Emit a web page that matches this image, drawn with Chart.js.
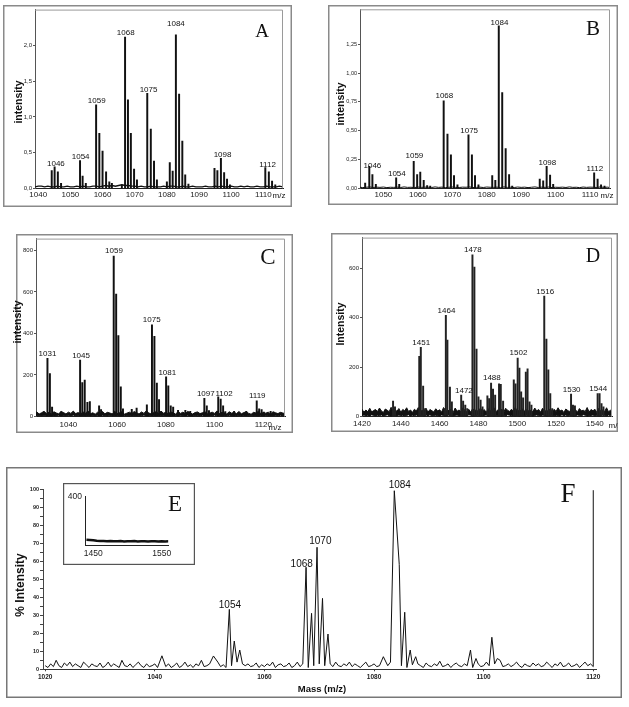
<!DOCTYPE html>
<html><head><meta charset="utf-8">
<script src="https://cdn.jsdelivr.net/npm/chart.js@4.4.0/dist/chart.umd.min.js"></script>
<style>
html,body{margin:0;padding:0;background:#fff;}
body{width:629px;height:707px;position:relative;overflow:hidden;}
canvas{position:absolute;}
</style></head><body>
<canvas id="cA" width="289" height="202" style="left:3px;top:5px"></canvas>
<canvas id="cB" width="290" height="200" style="left:328px;top:5px"></canvas>
<canvas id="cC" width="290" height="199" style="left:3px;top:234px"></canvas>
<canvas id="cD" width="287" height="199" style="left:331px;top:233px"></canvas>
<canvas id="cF" width="616" height="231" style="left:6px;top:467px"></canvas>
<canvas id="cE" width="132" height="82" style="left:63px;top:483px"></canvas>
<script>
// ---------- Panel A ----------
const aMass = [1044.2,1045.1,1046.1,1047.1, 1053.0,1053.8,1054.8, 1058.0,1059.0,1060.0,1061.1,1062.1,1062.9, 1066.0, 1067.0,1067.9,1068.8,1069.8,1070.7, 1073.9,1075.0,1076.0,1076.9, 1080.0,1080.9,1081.8,1082.8,1083.8,1084.8,1085.7,1086.7, 1094.8,1095.7,1096.8,1097.8,1098.7,1099.6, 1110.6,1111.7,1112.7,1113.7];
const aInt = [0.25,0.30,0.23,0.07, 0.39,0.17,0.07, 1.17,0.77,0.52,0.23,0.09,0.07, 0.05, 2.12,1.24,0.77,0.27,0.12, 1.33,0.83,0.38,0.12, 0.09,0.36,0.24,2.15,1.32,0.66,0.19,0.06, 0.28,0.25,0.42,0.22,0.13,0.05, 0.29,0.23,0.10,0.05];
const aNoiseStart = 1039, aNoiseStep = 1;
const aNoise = [0.02,0.03,0.03,0.02,0.03,0.02,0.02,0.03,0.02,0.02,0.03,0.02,0.02,0.03,0.02,0.03,0.02,0.02,0.03,0.03,0.02,0.03,0.04,0.03,0.04,0.03,0.04,0.05,0.04,0.04,0.03,0.03,0.02,0.03,0.02,0.02,0.03,0.02,0.02,0.02,0.03,0.02,0.03,0.03,0.02,0.02,0.03,0.02,0.02,0.03,0.02,0.02,0.02,0.03,0.02,0.02,0.03,0.02,0.03,0.02,0.02,0.03,0.02,0.02,0.03,0.02,0.03,0.02,0.02,0.03,0.02,0.02,0.03,0.02,0.02,0.02,0.03,0.02,0.02,0.02];
const aLabText = ['1046','1054','1059','1068','1075','1084','1098','1112'];
const aLabMass = [1045.5,1053.2,1058.2,1067.2,1074.3,1082.8,1097.3,1111.3];
const aLabVal = [0.31,0.41,1.19,2.15,1.35,2.28,0.44,0.30];
const aXTicks = [1040,1050,1060,1070,1080,1090,1100,1110];
const aYTicks = [0,0.5,1.0,1.5,2.0];

// ---------- Panel B ----------
const bMass = [1044.7,1045.9,1046.8,1047.8, 1053.7,1054.6, 1058.8,1059.8,1060.7,1061.7,1062.7,1063.6, 1067.5,1068.6,1069.6,1070.5,1071.5, 1074.7,1075.7,1076.6,1077.6, 1081.6,1082.5,1083.5,1084.5,1085.5,1086.5,1087.4, 1095.4,1096.4,1097.4,1098.4,1099.3, 1111.2,1112.2,1113.2,1114.2];
const bInt = [0.045,0.19,0.12,0.035, 0.09,0.035, 0.235,0.12,0.14,0.07,0.023,0.02, 0.76,0.47,0.29,0.11,0.03, 0.465,0.29,0.11,0.03, 0.11,0.07,1.41,0.83,0.345,0.12,0.02, 0.08,0.065,0.19,0.115,0.035, 0.135,0.08,0.03,0.02];
const bNoiseStart = 1043, bNoiseStep = 1;
const bNoise = [0.01,0.006,0.009,0.012,0.007,0.01,0.008,0.011,0.006,0.009,0.008,0.01,0.007,0.012,0.008,0.009,0.006,0.011,0.008,0.01,0.009,0.007,0.012,0.008,0.01,0.006,0.009,0.011,0.008,0.007,0.01,0.009,0.012,0.006,0.008,0.01,0.007,0.011,0.009,0.008,0.01,0.006,0.012,0.008,0.009,0.007,0.011,0.008,0.01,0.006,0.009,0.012,0.007,0.01,0.008,0.011,0.006,0.009,0.008,0.01,0.007,0.012,0.008,0.009,0.006,0.011,0.008,0.01,0.009,0.007,0.012,0.008,0.01,0.006,0.009];
const bLabText = ['1046','1054','1059','1068','1075','1084','1098','1112'];
const bLabMass = [1046.8,1053.9,1059.0,1067.7,1074.9,1083.7,1097.6,1111.4];
const bLabVal = [0.18,0.11,0.26,0.78,0.48,1.42,0.20,0.15];
const bXTicks = [1050,1060,1070,1080,1090,1100,1110];
const bYTicks = [0,0.25,0.5,0.75,1.0,1.25];

// ---------- Panel C ----------
const cMass = [1031.4,1032.4,1033.3,1034.3, 1037.0, 1044.8,1045.7,1046.7,1047.8,1048.8,1052.6,1053.4, 1058.6,1059.6,1060.5,1061.5,1062.4, 1066.0,1068.0,1072.2,1074.3,1075.3,1076.3,1077.2, 1080.1,1081.0,1082.0,1083.0, 1085.0,1088.0,1090.0, 1095.8,1096.8,1097.7, 1101.5,1102.5,1103.5,1104.4, 1108.0,1113.0, 1117.3,1118.3,1119.3,1120.2, 1123.0];
const cInt = [280,207,45,20, 22, 272,164,176,68,72,52,33, 773,590,390,143,37, 35,40,56,442,386,161,81, 191,148,52,45, 30,30,25, 87,52,29, 95,84,52,24, 25,25, 76,37,33,21, 25];
const cNoiseStart = 1026, cNoiseStep = 1;
const cNoiseHi = [16,22,12,18,25,14,20,11,23,17, 13,24,19,12,21,15,26,14,19,12, 22,16,27,13,18,11,21,15,24,13, 20,17,12,25,14,18,23,11,16,21, 14,24,18,12,22,15,28,17,12,19, 23,14,26,16,20,13,22,18,11,24, 15,21,13,25,17,12,19,22,14,18, 24,13,16,21,15,27,14,20,18,12, 23,16,21,14,24,13,19,22,15,11, 20,17,25,14,19,16,21,12,23,18, 14,20,17,13,18];
const cNoiseLo = [4,2,5,3,6,2,4,3,5,2, 6,3,4,2,5,3,7,2,4,3, 5,2,6,3,4,2,5,3,6,4, 2,5,3,4,6,2,3,5,4,2, 6,3,5,2,4,7,3,2,5,4, 3,6,2,4,5,3,2,6,4,3, 5,2,4,6,3,2,5,4,3,6, 2,4,5,3,7,2,4,3,5,2, 6,3,4,2,5,3,4,6,2,5, 3,4,2,6,3,5,2,4,3,5, 2,6,3,4,2];
const cLabText = ['1031','1045','1059','1075','1081','1097','1102','1119'];
const cLabMass = [1031.4,1045.2,1058.7,1074.2,1080.6,1096.4,1103.9,1117.5];
const cLabVal = [291,283,787,453,200,100,97,89];
const cXTicks = [1040,1060,1080,1100,1120];
const cYTicks = [0,200,400,600,800];

// ---------- Panel D ----------
const dMass = [1436.0,1437.0, 1449.5,1450.3,1451.5,1452.5, 1462.5,1463.2,1464.0,1465.3,1466.3, 1471.1,1472.1,1473.2,1474.2, 1476.9,1477.9,1479.0,1480.0,1481.1,1482.1, 1484.6,1485.5,1486.5,1487.5,1488.6,1490.6,1491.5,1492.7, 1498.2,1499.1,1500.2,1501.1,1502.0,1503.0,1504.4,1505.3,1506.3,1507.3, 1513.9,1515.0,1516.0,1517.0,1518.0, 1527.7,1528.7,1529.7, 1541.4,1542.4,1543.4,1544.4];
const dInt = [63,40, 244,280,124,33, 33,409,309,120,60, 87,63,47,33, 653,604,273,80,67,40, 84,73,136,111,87,133,131,63, 149,133,237,196,100,76,180,193,60,47, 487,313,189,93,33, 91,47,44, 93,93,53,40];
const dNoiseStart = 1419, dNoiseStep = 1;
const dNoiseHi = [22,30,18,27,20,34,19,25,29,21, 35,23,17,31,26,20,38,19,28,22, 33,18,29,24,36,21,27,17,30,23, 37,20,26,22,34,18,29,24,19,32, 23,28,18,37,21,26,24,31,17,35, 22,27,20,36,25,19,30,18,33,24, 28,19,35,22,29,17,32,25,21,36, 20,28,23,31,18,34,26,21,30,22, 38,19,27,24,33,17,30,22,26,20, 35,23,29,18,34,21,26,22,32,19, 30,21,36,23,27,17,31,25,20,35, 22,28,18,33,24,26,21,37,19,29, 24,30,17,34,22,27,21,36,20,26, 23];
const dNoiseLo = [5,3,7,4,6,2,8,5,3,6, 4,7,3,5,8,4,2,6,5,3, 7,4,6,3,5,8,2,6,4,7, 3,5,6,2,7,4,8,3,5,6, 4,2,7,5,3,6,8,4,3,5, 7,2,6,4,5,3,8,6,2,4, 7,5,3,6,4,8,2,5,7,3, 6,4,5,2,7,3,8,6,4,5, 3,7,2,6,5,4,8,3,6,2, 5,7,4,3,6,8,2,5,4,7, 3,6,5,2,8,4,7,3,5,6, 2,4,7,5,3,8,6,2,4,5, 7,3,6,4,2,8,5,3,7,4, 6];
const dLabText = ['1451','1464','1472','1478','1488','1502','1516','1530','1544'];
const dLabMass = [1450.5,1463.5,1472.5,1477.1,1486.9,1500.6,1514.4,1528.0,1541.7];
const dLabVal = [289,420,96,663,147,249,497,100,103];
const dXTicks = [1420,1440,1460,1480,1500,1520,1540];
const dYTicks = [0,200,400,600];

// ---------- Panel F ----------
const fMass = [1041.3,1050.7, 1053.6,1054.5,1055.5, 1067.6,1068.6,1069.6,1070.6,1071.6, 1081.7, 1083.7,1084.6,1085.6,1086.6,1087.6, 1097.6,1098.6, 1101.5,1102.5];
const fInt = [7.5,7.4, 33.3,15.7,10.7, 56.7,31.1,67.8,39.4,19.6, 7, 99.2,58.3,31.7,10.7,7, 10.7,6, 17.8,6];
const fEndMass = 1120, fEndInt = 99.5;
const fNoiseStart = 1020, fNoiseStep = 0.5;
const fNoise = [2,1,3,1.5,5,2,1,3.5,2,4, 1.5,3,2,1,4,2.5,1,3,2,1.5, 3.5,1,2,4,1.5,3,2,1,5,2, 1.5,3,1,2.5,4,2,1,3,1.5,2, 3,1,4.5,2,1.5,3,1,2,3.5,1, 2,4,1.5,2.5,1,3,2,5,1.5,2, 3,1,2,4,1.5,2.5,1,3,2,1.5, 4,2,3,2,3,1.5,2,3.5,1,2.5, 1.5,3,2,4,1,2.5,3,1.5,2,3.5, 1,2,4,1.5,3,2,1,3.5,2,1.5, 3,5,2,1,3,1.5,4,2,1.5,3, 2,4,1.5,3,2,1,2.5,4,1.5,2, 3,1.5,2,3.5,1,2,4,2,3,1.5, 2,3,1,4,2.5,1.5,3,2,1,3.5, 2,1.5,3,2,4.5,1.5,2,3,1,2.5, 3.5,2,1.5,3,2,4,1,2.5,3,1.5, 2,4,2,1.5,3,2,5,1.5,2,3, 1.5,2.5,4,2,1,3,2,1.5,3.5,2, 3,1.5,2,4,2.5,1,3,2,4,1.5, 2,3.5,1.5,2,3,1,2.5,4,2,3, 1.5];
const fLabText = ['1054','1068','1070','1084'];
const fLabMass = [1053.7,1066.8,1070.2,1084.7];
const fLabVal = [34.3,56.7,69.6,100.7];
const fXTicks = [1020,1040,1060,1080,1100,1120];
const fYTicks = [0,5,10,15,20,25,30,35,40,45,50,55,60,65,70,75,80,85,90,95,100];

// ---------- Inset E ----------
const eNoiseStart = 1440, eNoiseStep = 5;
const eNoise = [44,42,40,36,34,33,32,34,31,32,33,30,32,31,33,30,31,32,30,31,32,30,31,30,31];
const eXTicks = [1450,1550];
const eYTicks = [400];

// ================= helpers =================
const SANS = '"Liberation Sans", Arial, sans-serif';
const SERIF = '"Liberation Serif", "Times New Roman", serif';

function gridPts(start, step, vals){ return vals.map((v,i)=>({x: start + i*step, y: v})); }
function peakPts(m, v){ return m.map((x,i)=>({x: x, y: v[i]})); }

const deco = {
  id: 'deco',
  beforeDraw(chart, args, o){
    if (o.bg){ const c = chart.ctx; c.save(); c.fillStyle = o.bg; c.fillRect(0,0,chart.width,chart.height); c.restore(); }
  },
  afterDraw(chart, args, o){
    const ctx = chart.ctx, ca = chart.chartArea;
    ctx.save();
    if (o.box){
      ctx.strokeStyle = o.box; ctx.lineWidth = 1;
      ctx.beginPath(); ctx.moveTo(ca.left, ca.top+0.5); ctx.lineTo(ca.right-0.5, ca.top+0.5); ctx.lineTo(ca.right-0.5, ca.bottom); ctx.stroke();
    }
    if (o.frame){
      const w = o.frameW || 1.5, h = w/2;
      const fr = o.frameRect || {x:o.ox, y:o.oy, w:chart.width, h:chart.height};
      ctx.strokeStyle = o.frame; ctx.lineWidth = w;
      ctx.strokeRect(fr.x - o.ox + h, fr.y - o.oy + h, fr.w - 2*h, fr.h - 2*h);
    }
    if (o.ann){
      const xs = chart.scales.x, ys = chart.scales.y;
      ctx.font = o.annFont; ctx.fillStyle = '#111'; ctx.textAlign = 'center'; ctx.textBaseline = 'alphabetic';
      o.ann.text.forEach((t,i)=> ctx.fillText(t, xs.getPixelForValue(o.ann.x[i]), ys.getPixelForValue(o.ann.y[i])));
    }
    (o.texts||[]).forEach(t=>{
      ctx.save();
      ctx.font = t.font; ctx.fillStyle = t.color || '#111';
      ctx.textAlign = t.align || 'center'; ctx.textBaseline = t.base || 'alphabetic';
      ctx.translate(t.x - o.ox, t.y - o.oy);
      if (t.rot) ctx.rotate(t.rot);
      ctx.fillText(t.s, 0, 0);
      ctx.restore();
    });
    ctx.restore();
  }
};

function makeChart(id, c){
  const datasets = [];
  if (c.bandLo){
    datasets.push({type:'line', data:c.bandLo, borderColor:'#111', borderWidth:1, pointRadius:0, tension:0, fill:false, order:3});
    datasets.push({type:'line', data:c.bandHi, borderColor:'#111', borderWidth:1, pointRadius:0, tension:0, fill:'-1', backgroundColor:'#111', order:2});
  }
  if (c.line) datasets.push({type:'line', data:c.line, borderColor:c.lineColor||'#111', borderWidth:c.lineW||1.2, pointRadius:0, tension:0, fill:false, order:2});
  if (c.bars) datasets.push({type:'bar', data:c.bars, backgroundColor:c.barColor||'#111', borderWidth:0, barThickness:c.barW||1.2, grouped:false, order:1});
  return new Chart(document.getElementById(id), {
    type:'line',
    data:{datasets},
    options:{
      responsive:false, animation:false, devicePixelRatio:1,
      layout:{padding:{left:0, bottom:0, top:c.pad.top, right:c.pad.right}},
      plugins:{legend:{display:false}, tooltip:{enabled:false}, deco:c.deco},
      scales:{
        x:{type:'linear', min:c.xMin, max:c.xMax, offset:false,
           afterFit(a){ a.height = c.pad.bottom; },
           afterBuildTicks(a){ a.ticks = c.xTicks.map(v=>({value:v})); },
           grid:{display:true, drawOnChartArea:false, drawTicks:c.xTickLen>0, tickLength:c.xTickLen||0, color:c.axisColor||'#555', offset:false},
           border:{display:true, color:c.xAxisColor||'#222', width:1},
           ticks:{autoSkip:false, maxRotation:0, minRotation:0, padding:c.xPad, color:c.tickColor||'#222', font:c.xFont, callback:v=>String(v)}
        },
        y:{type:'linear', min:c.yMin, max:c.yMax,
           afterFit(a){ a.width = c.pad.left; },
           afterBuildTicks(a){ a.ticks = c.yTicks.map(v=>({value:v})); },
           grid:{display:true, drawOnChartArea:false, drawTicks:c.yTickLen>0, tickLength:c.yTickLen||0, color:c.axisColor||'#555'},
           border:{display:true, color:c.yAxisColor||'#555', width:1},
           ticks:{autoSkip:false, padding:c.yPad, color:c.tickColor||'#222', font:c.yFont, callback:c.yFmt}
        }
      }
    },
    plugins:[deco]
  });
}

const comma1 = v => v.toFixed(1).replace('.', ',');
const comma2 = v => v.toFixed(2).replace('.', ',');
const plain = v => String(v);

// ---- A ----
makeChart('cA', {
  line: gridPts(aNoiseStart, aNoiseStep, aNoise), lineW:1.4,
  bars: peakPts(aMass, aInt), barW:1.3,
  pad:{left:32, top:3, right:9, bottom:18.7},
  xMin:1039.0, xMax:1116.1, yMin:0, yMax:2.504,
  xTicks:aXTicks, yTicks:aYTicks, yFmt:comma1,
  xFont:{family:SANS, size:8}, yFont:{family:SANS, size:6},
  xPad:2, yPad:1, yTickLen:2, xTickLen:0,
  deco:{ox:3, oy:5, frame:'#8a8a8a', box:'#9a9a9a',
    ann:{text:aLabText, x:aLabMass, y:aLabVal}, annFont:'8px '+SANS,
    texts:[
      {s:'A', x:262, y:37, font:'19px '+SERIF},
      {s:'intensity', x:22, y:102, font:'bold 10.5px '+SANS, rot:-Math.PI/2},
      {s:'m/z', x:279, y:198, font:'8px '+SANS}
    ]}
});

// ---- B ----
makeChart('cB', {
  line: gridPts(bNoiseStart, bNoiseStep, bNoise), lineW:1,
  bars: peakPts(bMass, bInt), barW:1.3,
  pad:{left:32, top:3, right:8, bottom:16.7},
  xMin:1043.2, xMax:1115.8, yMin:0, yMax:1.554,
  xTicks:bXTicks, yTicks:bYTicks, yFmt:comma2,
  xFont:{family:SANS, size:8}, yFont:{family:SANS, size:5.5},
  xPad:2, yPad:1, yTickLen:2, xTickLen:0,
  deco:{ox:328, oy:5, frame:'#8a8a8a', box:'#9a9a9a',
    ann:{text:bLabText, x:bLabMass, y:bLabVal}, annFont:'8px '+SANS,
    texts:[
      {s:'B', x:593, y:35, font:'21px '+SERIF},
      {s:'intensity', x:344, y:104, font:'bold 10.5px '+SANS, rot:-Math.PI/2},
      {s:'m/z', x:607, y:198, font:'8px '+SANS}
    ]}
});

// ---- C ----
makeChart('cC', {
  bandLo: gridPts(cNoiseStart, cNoiseStep, cNoiseLo), bandHi: gridPts(cNoiseStart, cNoiseStep, cNoiseHi),
  bars: peakPts(cMass, cInt), barW:1.3,
  pad:{left:33, top:2.5, right:8, bottom:16.5},
  xMin:1026.7, xMax:1128.9, yMin:0, yMax:857,
  xTicks:cXTicks, yTicks:cYTicks, yFmt:plain,
  xFont:{family:SANS, size:8}, yFont:{family:SANS, size:6},
  xPad:3, yPad:1, yTickLen:2, xTickLen:0,
  deco:{ox:3, oy:234, frame:'#8a8a8a', box:'#9a9a9a', frameRect:{x:16, y:234, w:277, h:199},
    ann:{text:cLabText, x:cLabMass, y:cLabVal}, annFont:'8px '+SANS,
    texts:[
      {s:'C', x:268, y:264, font:'23px '+SERIF},
      {s:'intensity', x:21, y:322, font:'bold 10.5px '+SANS, rot:-Math.PI/2},
      {s:'m/z', x:275, y:430, font:'8px '+SANS}
    ]}
});

// ---- D ----
makeChart('cD', {
  bandLo: gridPts(dNoiseStart, dNoiseStep, dNoiseLo), bandHi: gridPts(dNoiseStart, dNoiseStep, dNoiseHi),
  bars: peakPts(dMass, dInt), barW:1.3, barColor:'#222',
  pad:{left:31, top:3, right:6, bottom:15.3},
  xMin:1420, xMax:1548.8, yMin:0, yMax:722.8,
  xTicks:dXTicks, yTicks:dYTicks, yFmt:plain,
  xFont:{family:SANS, size:8}, yFont:{family:SANS, size:6},
  xPad:2, yPad:1, yTickLen:2, xTickLen:0,
  deco:{ox:331, oy:233, frame:'#8a8a8a', box:'#9a9a9a',
    ann:{text:dLabText, x:dLabMass, y:dLabVal}, annFont:'8px '+SANS,
    texts:[
      {s:'D', x:593, y:262, font:'20px '+SERIF},
      {s:'Intensity', x:344, y:324, font:'bold 10.5px '+SANS, rot:-Math.PI/2},
      {s:'m/z', x:615, y:428, font:'8px '+SANS}
    ]}
});

// ---- F ----
(function(){
  const noise = gridPts(fNoiseStart, fNoiseStep, fNoise)
    .filter(p => !fMass.some(m => Math.abs(m - p.x) < 0.3));
  const pts = noise.concat(peakPts(fMass, fInt)).sort((a,b)=>a.x-b.x);
  pts.push({x:fEndMass, y:fEndInt});
  makeChart('cF', {
    line: pts, lineW:1, lineColor:'#111',
    pad:{left:37, top:22.3, right:26, bottom:28.7},
    xMin:1019.6, xMax:1120.5, yMin:0, yMax:100,
    xTicks:fXTicks, yTicks:fYTicks, yFmt:v => (v % 10 === 0 ? String(v) : ''),
    xFont:{family:SANS, size:6.5, weight:'bold'}, yFont:{family:SANS, size:5.5, weight:'bold'},
    xPad:2, yPad:1, yTickLen:3, xTickLen:2, axisColor:'#444', xAxisColor:'#333', yAxisColor:'#444',
    deco:{ox:6, oy:467, frame:'#777',
      ann:{text:fLabText, x:fLabMass, y:fLabVal}, annFont:'10px '+SANS,
      texts:[
        {s:'F', x:568, y:502, font:'27px '+SERIF},
        {s:'% Intensity', x:24, y:585, font:'bold 12px '+SANS, rot:-Math.PI/2},
        {s:'Mass (m/z)', x:322, y:692, font:'bold 9.5px '+SANS}
      ]}
  });
})();

// ---- E (inset) ----
makeChart('cE', {
  line: gridPts(eNoiseStart, eNoiseStep, eNoise), lineW:2.5, lineColor:'#111',
  pad:{left:22, top:13, right:26.7, bottom:20},
  xMin:1437.9, xMax:1559.6, yMin:0, yMax:408,
  xTicks:eXTicks, yTicks:eYTicks, yFmt:plain,
  xFont:{family:SANS, size:8.5}, yFont:{family:SANS, size:8.5},
  xPad:4, yPad:3, yTickLen:0, xTickLen:0, xAxisColor:'#222', yAxisColor:'#222',
  deco:{ox:63, oy:483, bg:'#fff', frame:'#555', frameW:1.2,
    texts:[
      {s:'E', x:175, y:511, font:'23px '+SERIF}
    ]}
});
</script>
</body></html>
